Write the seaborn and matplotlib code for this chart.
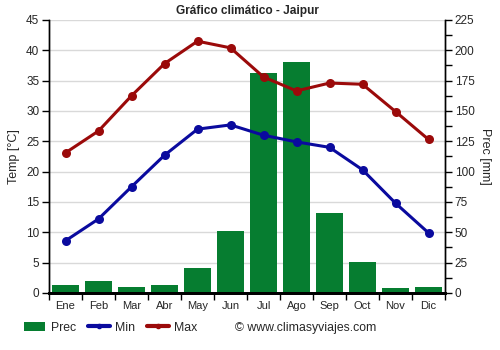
import matplotlib
matplotlib.use("Agg")
import matplotlib.pyplot as plt
from matplotlib.lines import Line2D
from matplotlib.patches import Patch
import numpy as np
import pandas as pd
import seaborn as sns

# Monthly climate data for Jaipur
months = ["Ene", "Feb", "Mar", "Abr", "May", "Jun", "Jul", "Ago", "Sep", "Oct", "Nov", "Dic"]
prec_mm = [6.6, 9.9, 4.5, 6.5, 20.5, 51, 181, 190, 66, 25.5, 4, 5]
temp_min = [8.6, 12.2, 17.5, 22.7, 27.0, 27.7, 26.0, 24.9, 24.0, 20.3, 14.8, 9.9]
temp_max = [23.1, 26.7, 32.5, 37.8, 41.5, 40.4, 35.6, 33.3, 34.6, 34.4, 29.9, 25.3]

GREEN = "#067d30"
BLUE = "#0a0a9e"
RED = "#9b0a0a"

df = pd.DataFrame({"mes": months, "prec": prec_mm, "tmin": temp_min, "tmax": temp_max})
df["pos"] = np.arange(len(months))

sns.set_theme(style="white")
plt.rcParams["font.family"] = ["Liberation Sans", "DejaVu Sans"]

fig = plt.figure(figsize=(5, 3.5), dpi=100)
ax_t = fig.add_axes([0.098, 0.163, 0.792, 0.78])
ax_p = ax_t.twinx()

# Precipitation bars on the secondary (right) axis, drawn underneath
sns.barplot(data=df, x="pos", y="prec", ax=ax_p, color=GREEN, width=0.8,
            saturation=1, order=list(range(12)), native_scale=True, zorder=2,
            edgecolor="none", linewidth=0)
ax_p.set_ylim(0, 225)
ax_p.set_yticks(np.arange(0, 226, 25))
ax_p.set_yticks(np.arange(0, 226, 12.5), minor=True)
ax_p.set_xlim(-0.5, 11.5)
ax_p.set_xticks(np.arange(-0.5, 12, 1), minor=True)
ax_p.grid(True, which="major", axis="y", color="#d9d9d9", lw=1, zorder=0)
ax_p.grid(True, which="minor", axis="x", color="#d9d9d9", lw=1, zorder=0)
ax_p.set_axisbelow(True)
ax_p.set_ylabel("Prec [mm]", fontsize=9, rotation=270, labelpad=12)
ax_p.set_xlabel("")

# Temperature lines on the primary (left) axis, drawn on top
ax_t.set_zorder(ax_p.get_zorder() + 1)
ax_t.patch.set_visible(False)
sns.lineplot(data=df, x="pos", y="tmin", ax=ax_t, color=BLUE, lw=2.2,
             marker="o", markersize=6.5, markeredgewidth=0)
sns.lineplot(data=df, x="pos", y="tmax", ax=ax_t, color=RED, lw=2.2,
             marker="o", markersize=6.5, markeredgewidth=0)
ax_t.set_ylim(0, 45)
ax_t.set_yticks(np.arange(0, 46, 5))
ax_t.set_xlim(-0.5, 11.5)
ax_t.set_xticks(np.arange(12))
ax_t.set_xticklabels(months)
ax_t.set_xticks(np.arange(-0.5, 12, 1), minor=True)
ax_t.set_xlabel("")
ax_t.set_ylabel("Temp [°C]", fontsize=9, labelpad=4)
ax_t.set_title("Gráfico climático - Jaipur", fontsize=8.6, fontweight="bold", pad=4)

for a in (ax_t, ax_p):
    a.spines["top"].set_visible(False)
    a.spines["left"].set_color("black")
    a.spines["right"].set_color("black")
    a.spines["left"].set_linewidth(1)
    a.spines["right"].set_linewidth(1)
    a.spines["bottom"].set_color("black")
    a.spines["bottom"].set_linewidth(2)

ax_t.tick_params(axis="y", which="major", left=True, length=5, width=1,
                 color="black", labelsize=8.5, pad=2)
ax_t.tick_params(axis="x", which="major", bottom=True, length=0, labelsize=8, pad=6)
ax_t.tick_params(axis="x", which="minor", bottom=True, length=5, width=1, color="black")
ax_p.tick_params(axis="y", which="major", right=True, length=5, width=1,
                 color="black", labelsize=8.5, pad=2)
ax_p.tick_params(axis="y", which="minor", right=True, length=5, width=1, color="black")
ax_p.tick_params(axis="x", which="both", bottom=False, labelbottom=False)

handles = [
    Patch(facecolor=GREEN, edgecolor="none", label="Prec"),
    Line2D([0], [0], color=BLUE, lw=3, marker="o", markersize=3, label="Min"),
    Line2D([0], [0], color=RED, lw=3, marker="o", markersize=3, label="Max"),
]
fig.legend(handles=handles, loc="center left", bbox_to_anchor=(0.048, 0.064),
           ncol=3, frameon=False, fontsize=8.8, handlelength=1.75, handleheight=0.85,
           columnspacing=1.0, handletextpad=0.45, borderpad=0, borderaxespad=0)
fig.text(0.47, 0.064, "© www.climasyviajes.com", fontsize=8.8, va="center")

fig.savefig("out.png", dpi=100)
